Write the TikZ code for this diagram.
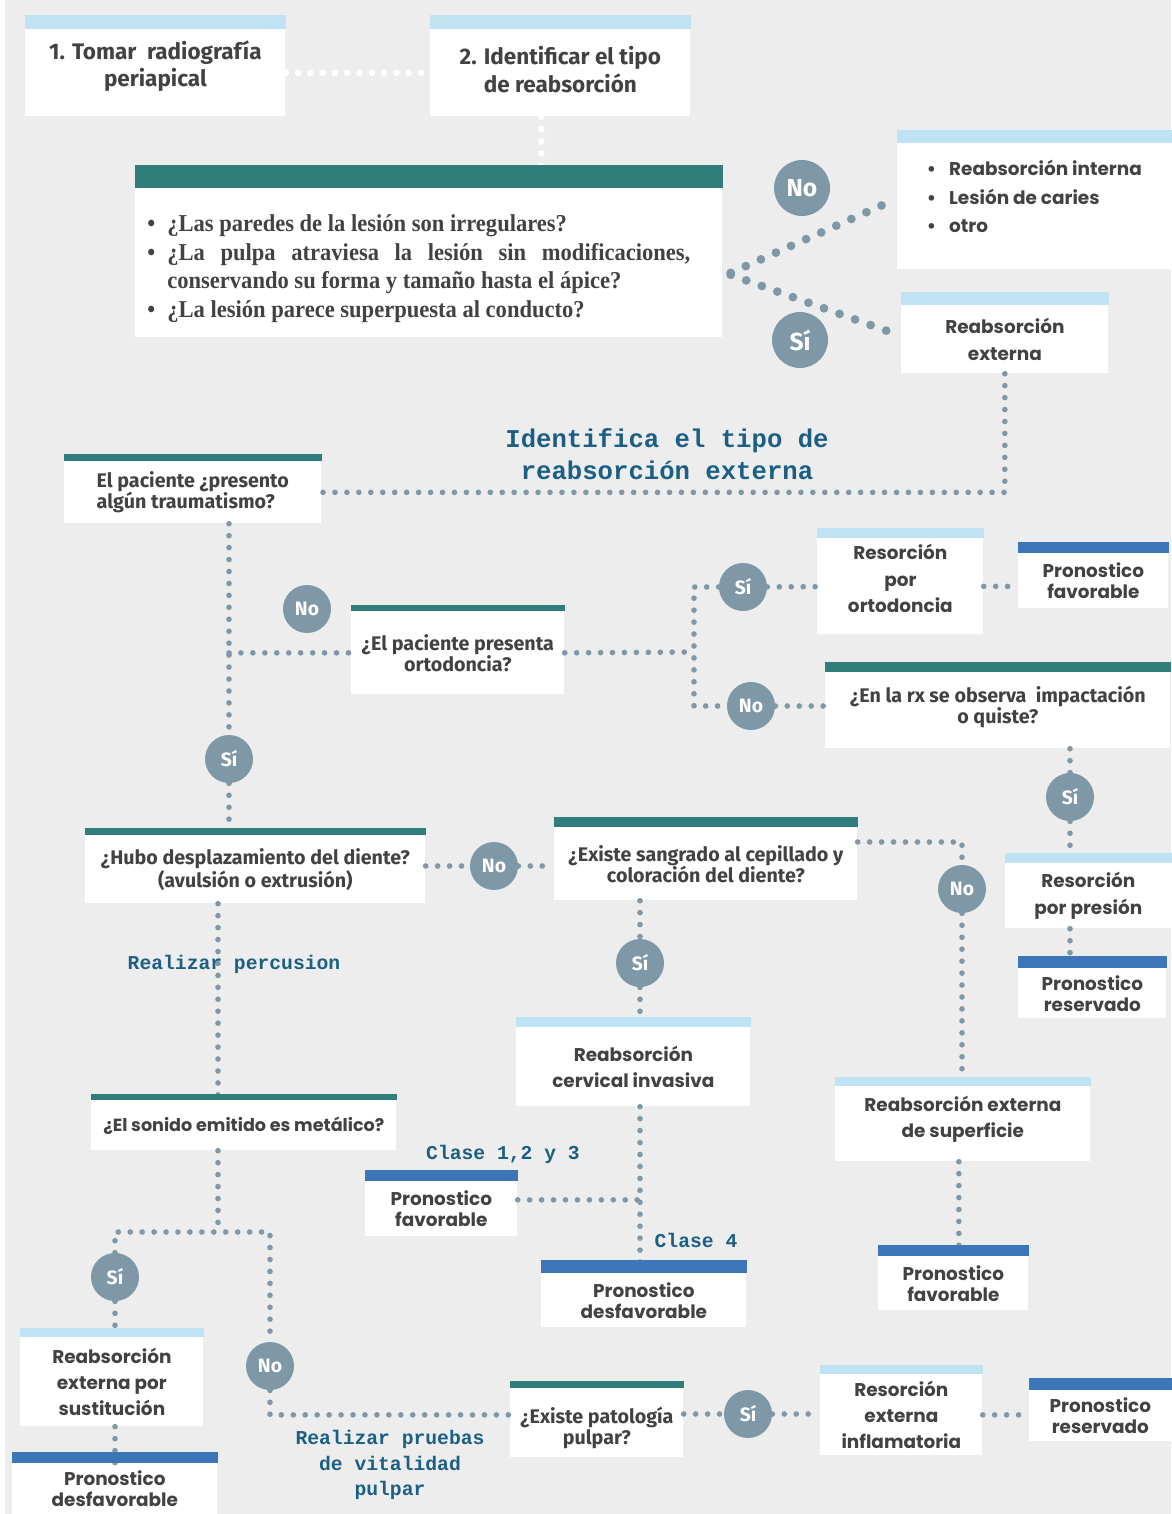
\documentclass[tikz,border=0pt]{standalone}
\usepackage{fontspec}
\setmainfont{Liberation Serif}
\newfontfamily\serifc[FakeStretch=0.93]{Liberation Serif}
\newfontfamily\geo{Poppins}
\newfontfamily\grot{Fira Sans}
\newfontfamily\mono{Liberation Mono}
\usetikzlibrary{calc}

\definecolor{fondo}{HTML}{EDEDED}
\definecolor{verde}{HTML}{307E7B}
\definecolor{celeste}{HTML}{BFE3F2}
\definecolor{azul}{HTML}{3C76B8}
\definecolor{gris}{HTML}{7F98A7}
\definecolor{texto}{HTML}{424242}
\definecolor{titulo}{HTML}{1B5F84}

\newcommand\ux{0.02cm}
\newcommand\vineta{\par\noindent\hangindent=0.4cm\hangafter=1\makebox[0.4cm][l]{\textbullet}}

\tikzset{
  caja/.style={fill=white, text=texto, align=center, inner sep=0pt, anchor=north west},
  wh/.style 2 args={minimum width=#1*\ux, minimum height=#2*\ux},
  fcond/.style={font=\grot\bfseries\fontsize{12.8}{15.5}\selectfont},
  fgrot/.style={font=\grot\bfseries\fontsize{11.2}{12}\selectfont},
  fgeo/.style={font=\geo\bfseries\fontsize{10.5}{15}\selectfont},
  fpron/.style={font=\geo\bfseries\fontsize{10.5}{12}\selectfont},
  rotulo/.style={text=titulo, align=center, font=\mono\bfseries\fontsize{11.2}{14.5}\selectfont},
  resp/.style={circle, fill=gris, text=white, inner sep=0pt, minimum size=48*\ux,
    font=\grot\bfseries\fontsize{11}{13}\selectfont},
  puntos/.style={draw=gris, line width=3.2pt, line cap=round, dash pattern=on 0pt off 6.8pt},
  puntosblancos/.style={puntos, draw=white, line width=3.8pt, dash pattern=on 0pt off 7pt},
  puntosgrandes/.style={puntos, line width=5pt, dash pattern=on 0pt off 9.4pt},
}

\begin{document}
\begin{tikzpicture}[x=0.02cm, y=-0.02cm]
\useasboundingbox (0,0) rectangle (1171,1514);
\fill[fondo] (0,0) rectangle (1171,1514);
\fill[white] (0,0) rectangle (5,1514);

% cajas
\node[caja, wh={260}{87}, fcond, text depth=19*\ux] (tomar) at (25,29) {1. Tomar\ \ radiografía\\periapical};
\node[caja, wh={260}{87}, fcond, text depth=7*\ux] (ident) at (430,29) {2. Identificar el tipo\\de reabsorción};
\node[caja, wh={587}{149}, align=justify, text width=563*\ux,
  font=\serifc\bfseries\fontsize{13.8}{16.2}\selectfont] (preg) at (135,188)
  {\rightskip=0.4cm
   \vineta ¿Las paredes de la lesión son irregulares?
   \vineta ¿La pulpa atraviesa la lesión sin modificaciones,\linebreak
   conservando su forma y tamaño hasta el ápice?
   \vineta ¿La lesión parece superpuesta al conducto?\par};
\node[caja, wh={274}{126}, fgeo, align=left, text depth=20*\ux] (otros) at (897,143)
  {•\hspace{0.26cm}Reabsorción interna\\[1pt]•\hspace{0.26cm}Lesión de caries\\[1pt]•\hspace{0.26cm}otro};
\node[caja, wh={207}{68}, fgeo] (externa) at (901,305) {Reabsorción\\externa};

\node[caja, wh={257}{62}, fgrot, align=left] (trauma) at (64,461) {El paciente ¿presento\\algún traumatismo?};
\node[caja, wh={213}{83}, fgrot] (orto) at (351,611) {¿El paciente presenta\\ortodoncia?};
\node[caja, wh={166}{96}, fgeo, text depth=16*\ux] (rorto) at (817,538) {Resorción\\por\\ortodoncia};
\node[caja, wh={150}{55}, fpron] (pfav1) at (1018,553) {Pronostico\\favorable};
\node[caja, wh={345}{76}, fgrot, text depth=12*\ux] (impac) at (825,672) {¿En la rx se observa\ \ impactación\\o quiste?};
\node[caja, wh={166}{65}, fgeo] (presion) at (1005,863) {Resorción\\por presión};
\node[caja, wh={148}{50}, fpron] (pres1) at (1018,968) {Pronostico\\reservado};

\node[caja, wh={340}{68}, fgrot] (despl) at (85,835) {¿Hubo desplazamiento del diente?\\(avulsión o extrusión)};
\node[caja, wh={303}{73}, fgrot] (sangra) at (554,827) {¿Existe sangrado al cepillado y\\coloración del diente?};
\node[caja, wh={255}{75}, fgeo, text depth=14*\ux] (superf) at (835,1086) {Reabsorción externa\\de superficie};
\node[caja, wh={150}{54}, fpron] (pfav3) at (878,1256) {Pronostico\\favorable};
\node[caja, wh={234}{79}, fgeo] (cervical) at (516,1027) {Reabsorción\\cervical invasiva};
\node[caja, wh={152}{55}, fpron] (pfav2) at (365,1181) {Pronostico\\favorable};
\node[caja, wh={205}{54}, fpron] (pdes1) at (541,1273) {Pronostico\\desfavorable};

\node[caja, wh={305}{50}, font=\geo\bfseries\fontsize{10}{12}\selectfont] (sonido) at (91,1100) {¿El sonido emitido es metálico?};
\node[caja, wh={183}{89}, fgeo] (sustit) at (20,1337) {Reabsorción\\externa por\\sustitución};
\node[caja, wh={205}{51}, fpron] (pdes2) at (12,1463) {Pronostico\\desfavorable};
\node[caja, wh={173}{69}, fgrot, text height=48*\ux] (patol) at (510,1388) {¿Existe patología\\pulpar?};
\node[caja, wh={162}{81}, fgeo] (inflam) at (820,1374) {Resorción\\externa\\inflamatoria};
\node[caja, wh={142}{51}, fpron] (pres2) at (1029,1390) {Pronostico\\reservado};

% rotulos
\node[rotulo, font=\mono\bfseries\fontsize{14.6}{18.2}\selectfont] (titulo) at (667,454) {Identifica el tipo de\\reabsorción externa};
\node[rotulo] (percusion) at (234,964) {Realizar percusion};
\node[rotulo] (clase123) at (503,1154) {Clase 1,2 y 3};
\node[rotulo] (clase4) at (696,1240) {Clase 4};
\node[rotulo] (pruebas) at (390,1465) {Realizar pruebas\\de vitalidad\\pulpar};

% respuestas
\node[resp, minimum size=56*\ux, font=\grot\bfseries\fontsize{14}{16}\selectfont] (no1) at (802,188) {No};
\node[resp, minimum size=56*\ux, font=\grot\bfseries\fontsize{14}{16}\selectfont] (si1) at (800,340) {Sí};
\node[resp] (no2) at (307,609) {No};
\node[resp] (si2) at (229,759) {Sí};
\node[resp] (si3) at (743,587) {Sí};
\node[resp] (no3) at (751,706) {No};
\node[resp] (si4) at (1070,797) {Sí};
\node[resp] (no4) at (494,866) {No};
\node[resp] (no5) at (962,889) {No};
\node[resp] (si5) at (640,963) {Sí};
\node[resp] (si6) at (115,1277) {Sí};
\node[resp] (no6) at (270,1366) {No};
\node[resp] (si7) at (748,1414) {Sí};

\coordinate (bajada) at ($(ident.south)+(-19,0)$);
\coordinate (ramaorto) at (694,652);
\coordinate (ramasangra) at (962,842);
\coordinate (ramacerv) at ($(pfav2.east)+(0,-9)$);
\coordinate (bifur) at (218,1232);
\coordinate (llegada) at ($(patol.west)+(0,-8)$);

% conectores
\draw[puntosblancos] (tomar) -- (ident);
\draw[puntosblancos] (bajada) -- (bajada |- preg.north);
\draw[puntosgrandes] ($(preg.east)+(8,10)$) -- ($(otros.west)+(-4,-6)$);
\draw[puntosgrandes] ($(preg.east)+(8,12)$) -- ($(externa.west)+(-10,-7)$);
\draw[puntos] (externa.south) |- (trauma.east);

\draw[puntos] (si2 |- trauma.south) -- (si2) -- (si2 |- despl.north);
\draw[puntos] (si2 |- orto.west) -- (orto.west);
\draw[puntos] (orto.east) -- (ramaorto);
\draw[puntos] (si3) -| (ramaorto) |- (no3);
\draw[puntos] (si3) -- (rorto);
\draw[puntos] (no3) -- (no3 -| impac.west);
\draw[puntos] (rorto.east) -- (rorto.east -| pfav1.west);
\draw[puntos] (si4 |- impac.south) -- (si4) -- (si4 |- presion.north);
\draw[puntos] (si4 |- presion.south) -- (si4 |- pres1.north);

\draw[puntos] (no4 -| despl.east) -- (no4) -- (no4 -| sangra.west);
\draw[puntos] (ramasangra -| sangra.east) -- (ramasangra) -- (no5) -- (no5 |- superf.north);
\draw[puntos] ([xshift=-4*\ux]superf.south) -- ([xshift=-4*\ux]superf.south |- pfav3.north);
\draw[puntos] (si5 |- sangra.south) -- (si5) -- (si5 |- cervical.north);
\draw[puntos] (si5 |- cervical.south) -- (si5 |- pdes1.north);
\draw[puntos] (ramacerv) -- (ramacerv -| si5);

\draw[puntos] (despl.south -| bifur) -- (sonido.north -| bifur);
\draw[puntos] (sonido.south -| bifur) -- (bifur);
\draw[puntos] (si6) |- (bifur) -| (no6);
\draw[puntos] (no6) |- (llegada);
\draw[puntos] (si6) -- (si6 |- sustit.north);
\draw[puntos] (si6 |- sustit.south) -- (si6 |- pdes2.north);
\draw[puntos] (si7 -| patol.east) -- (si7) -- (si7 -| inflam.west);
\draw[puntos] (inflam.east) -- (inflam.east -| pres2.west);

% barras
\foreach \n/\c/\h in {tomar/celeste/14, ident/celeste/14, preg/verde/23, otros/celeste/13,
  externa/celeste/13, trauma/verde/7, orto/verde/6, rorto/celeste/10, pfav1/azul/11,
  impac/verde/10, presion/celeste/10, pres1/azul/12, despl/verde/7, sangra/verde/10,
  superf/celeste/9, pfav3/azul/11, cervical/celeste/10, pfav2/azul/11, pdes1/azul/13,
  sonido/verde/6, sustit/celeste/9, pdes2/azul/11, patol/verde/7, inflam/celeste/9, pres2/azul/12}
  \fill[\c] (\n.north west) rectangle ([yshift=\h*\ux]\n.north east);
\end{tikzpicture}
\end{document}
